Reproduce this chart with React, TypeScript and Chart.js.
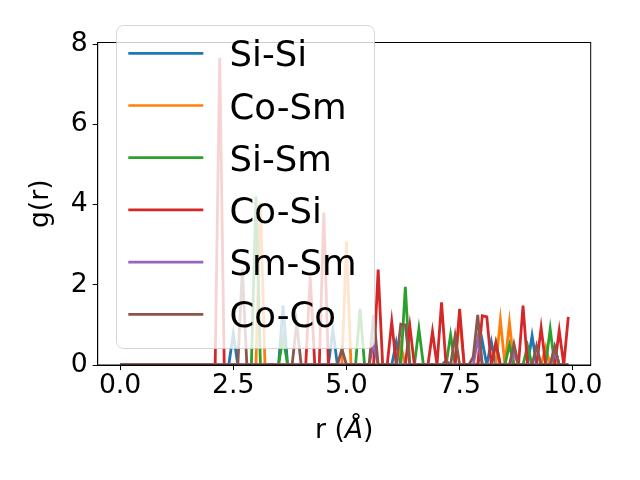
import React, { useEffect, useRef } from "react";
import { Chart, registerables } from "chart.js";

Chart.register(...registerables);

// r grid (Å)
const rValues = [
  0.0, 0.1, 0.2, 0.3, 0.4, 0.5, 0.6, 0.7, 0.8, 0.9,
  1.0, 1.1, 1.2, 1.3, 1.4, 1.5, 1.6, 1.7, 1.8, 1.9,
  2.0, 2.1, 2.2, 2.3, 2.4, 2.5, 2.6, 2.7, 2.8, 2.9,
  3.0, 3.1, 3.2, 3.3, 3.4, 3.5, 3.6, 3.7, 3.8, 3.9,
  4.0, 4.1, 4.2, 4.3, 4.4, 4.5, 4.6, 4.7, 4.8, 4.9,
  5.0, 5.1, 5.2, 5.3, 5.4, 5.5, 5.6, 5.7, 5.8, 5.9,
  6.0, 6.1, 6.2, 6.3, 6.4, 6.5, 6.6, 6.7, 6.8, 6.9,
  7.0, 7.1, 7.2, 7.3, 7.4, 7.5, 7.6, 7.7, 7.8, 7.9,
  8.0, 8.1, 8.2, 8.3, 8.4, 8.5, 8.6, 8.7, 8.8, 8.9,
  9.0, 9.1, 9.2, 9.3, 9.4, 9.5, 9.6, 9.7, 9.8, 9.9,
];

const siSi = [
  0, 0, 0, 0, 0, 0, 0, 0, 0, 0,
  0, 0, 0, 0, 0, 0, 0, 0, 0, 0,
  0, 0, 0, 0, 0, 0.78, 0, 0, 0, 0,
  0, 0, 0, 0, 0, 0, 1.48, 0, 0, 0,
  0, 0, 0, 0, 0, 0, 0, 0.88, 0, 0,
  0, 0, 0, 0, 0, 0, 0, 0, 0, 0,
  0, 0.57, 0, 0, 0, 0, 0, 0, 0, 0,
  0, 0, 0.1, 0, 0, 0, 0, 0, 0, 0,
  0.6, 0, 0.58, 0, 0, 0, 0, 0, 0, 0,
  0, 0.73, 0, 0, 0, 0, 0.45, 0, 0, 0,
];

const coSm = [
  0, 0, 0, 0, 0, 0, 0, 0, 0, 0,
  0, 0, 0, 0, 0, 0, 0, 0, 0, 0,
  0, 0, 0, 0, 0, 0, 0, 0, 0, 0,
  0, 4.05, 0, 0, 0, 0, 0, 0, 0, 0,
  0, 0, 0, 0, 0, 0, 0, 0, 0, 0,
  3.07, 0, 0, 0, 0, 0, 0, 0, 0, 0,
  0, 0, 0.5, 0, 0, 0, 0, 0, 0, 0,
  0, 0, 0, 0, 0, 1.2, 0, 0, 0, 0,
  0, 0, 0, 0, 1.12, 0, 1.06, 0, 0, 0,
  0, 0, 0, 0, 0.45, 0, 0, 0, 0, 0,
];

const siSm = [
  0, 0, 0, 0, 0, 0, 0, 0, 0, 0,
  0, 0, 0, 0, 0, 0, 0, 0, 0, 0,
  0, 0, 0, 0, 0, 0, 0, 0, 0, 0,
  4.2, 0, 0, 0, 0, 0, 0.7, 0, 0, 0,
  0, 0, 0, 0, 0, 0, 0, 0, 0, 0,
  0, 0, 0, 1.4, 0, 0, 0, 0, 0, 0,
  0, 0, 0, 1.95, 0, 0, 0.9, 0, 0, 0,
  0, 0, 0, 0.75, 0, 0, 0, 0, 0, 0,
  0, 0, 0, 0.55, 0, 0, 0.5, 0, 0, 0,
  0.48, 0, 0, 0, 0, 0.9, 0, 0, 0, 0,
];

const coSi = [
  0, 0, 0, 0, 0, 0, 0, 0, 0, 0,
  0, 0, 0, 0, 0, 0, 0, 0, 0, 0,
  0, 0, 7.66, 0, 0, 0, 0, 0, 0, 0,
  0, 0, 0, 0, 0, 0, 0, 0, 0, 0,
  0, 0, 2.2, 0, 0, 3.8, 0, 0, 0, 0,
  0, 0, 0, 0, 0, 0, 0, 2.38, 0, 0,
  1.08, 0, 0, 0, 0.97, 0, 0, 0, 0, 0.83,
  0, 1.56, 0, 0, 0, 1.4, 0, 0, 0, 0,
  1.23, 1.2, 0, 0.55, 0, 0, 0, 0, 0, 1.48,
  0, 0, 0, 0.93, 0, 0, 0, 0.86, 0, 1.2,
];

const smSm = [
  0, 0, 0, 0, 0, 0, 0, 0, 0, 0,
  0, 0, 0, 0, 0, 0, 0, 0, 0, 0,
  0, 0, 0, 0, 0, 0, 0, 0, 0, 0,
  0, 0, 0, 0, 0, 0, 0, 0, 0, 0,
  0, 0, 0, 0, 0, 0, 0, 0, 0, 0,
  0, 0, 0, 0, 0, 0, 0.55, 0, 0, 0,
  0, 0, 0, 0, 0, 0, 0, 0, 0, 0,
  0, 0, 0, 0, 0, 0, 0, 0, 0, 0.65,
  0, 0, 0, 0, 0, 0, 0, 0.3, 0, 0,
  0, 0, 0, 0, 0, 0, 0.3, 0, 0, 0,
];

const coCo = [
  0, 0, 0, 0, 0, 0, 0, 0, 0, 0,
  0, 0, 0, 0, 0, 0, 0, 0, 0, 0,
  0, 0, 0, 0, 0, 0, 0, 2.4, 0, 0,
  0, 0, 0, 0, 0, 0, 0, 0, 0, 1.05,
  0, 0, 0, 0, 0, 0, 0, 0, 0, 0.4,
  0, 0, 0, 0, 0, 0, 1.25, 0, 0, 0,
  0, 0, 1.02, 1.0, 0, 0, 0, 0, 0, 0,
  0, 0, 0, 0, 0.73, 0, 0, 0, 0.2, 1.25,
  0, 0, 0, 0, 0, 0, 0, 0.52, 0, 0,
  0, 0, 0.48, 0, 0, 0, 0.45, 0, 0, 0,
];

const seriesNames = ["Si-Si", "Co-Sm", "Si-Sm", "Co-Si", "Sm-Sm", "Co-Co"];
const seriesValues = [siSi, coSm, siSm, coSi, smSm, coCo];
const seriesColors = ["#1f77b4", "#ff7f0e", "#2ca02c", "#d62728", "#9467bd", "#8c564b"];

const xTickValues = [0, 2.5, 5, 7.5, 10];
const xTickLabels = ["0.0", "2.5", "5.0", "7.5", "10.0"];
const yTickValues = [0, 2, 4, 6, 8];
const yTickLabels = ["0", "2", "4", "6", "8"];

const FONT = "'DejaVu Sans', 'Liberation Sans', sans-serif";

const spinePlugin = {
  id: "mplSpines",
  afterDatasetsDraw(chart: any) {
    const { ctx, chartArea } = chart;
    ctx.save();
    ctx.strokeStyle = "#000";
    ctx.lineWidth = 1;
    ctx.strokeRect(chartArea.left, chartArea.top, chartArea.right - chartArea.left, chartArea.bottom - chartArea.top);
    ctx.restore();
  },
};

const legendPlugin = {
  id: "mplLegend",
  afterDraw(chart: any) {
    const ctx = chart.ctx;
    ctx.save();
    // legend frame
    const bx = 116.5, by = 25.5, bw = 258, bh = 323, r = 7;
    ctx.beginPath();
    ctx.moveTo(bx + r, by);
    ctx.lineTo(bx + bw - r, by);
    ctx.arcTo(bx + bw, by, bx + bw, by + r, r);
    ctx.lineTo(bx + bw, by + bh - r);
    ctx.arcTo(bx + bw, by + bh, bx + bw - r, by + bh, r);
    ctx.lineTo(bx + r, by + bh);
    ctx.arcTo(bx, by + bh, bx, by + bh - r, r);
    ctx.lineTo(bx, by + r);
    ctx.arcTo(bx, by, bx + r, by, r);
    ctx.closePath();
    ctx.fillStyle = "rgba(255,255,255,0.8)";
    ctx.fill();
    ctx.strokeStyle = "rgba(204,204,204,0.8)";
    ctx.lineWidth = 1;
    ctx.stroke();

    ctx.font = `35.5px ${FONT}`;
    ctx.textBaseline = "alphabetic";
    ctx.textAlign = "left";
    seriesNames.forEach((name, i) => {
      const y = 53.3 + 52.2 * i;
      ctx.beginPath();
      ctx.moveTo(128.3, y);
      ctx.lineTo(203.3, y);
      ctx.strokeStyle = seriesColors[i];
      ctx.lineWidth = 2.7;
      ctx.lineCap = "butt";
      ctx.stroke();
      ctx.fillStyle = "#000";
      ctx.fillText(name, 229.5, y + 13);
    });

    // x-axis label: r (Å) with italic Å
    const cx = (chart.chartArea.left + chart.chartArea.right) / 2;
    const ty = 431;
    const normal = `26.7px ${FONT}`;
    const italic = `italic 26.7px ${FONT}`;
    ctx.textBaseline = "middle";
    ctx.font = normal;
    const w1 = ctx.measureText("r (").width;
    const w3 = ctx.measureText(")").width;
    ctx.font = italic;
    const w2 = ctx.measureText("Å").width;
    let x = cx - (w1 + w2 + w3) / 2;
    ctx.fillStyle = "#000";
    ctx.font = normal;
    ctx.fillText("r (", x, ty);
    x += w1;
    ctx.font = italic;
    ctx.fillText("Å", x, ty);
    x += w2;
    ctx.font = normal;
    ctx.fillText(")", x, ty);
    ctx.restore();
  },
};

export default function App() {
  const canvasRef = useRef<HTMLCanvasElement | null>(null);

  useEffect(() => {
    const canvas = canvasRef.current;
    if (!canvas) return;
    Chart.defaults.font.family = FONT;
    const datasets = seriesNames.map((name, i) => ({
      label: name,
      data: rValues.map((r, k) => ({ x: r, y: seriesValues[i][k] })),
      borderColor: seriesColors[i],
      backgroundColor: seriesColors[i],
      borderWidth: 2.8,
      pointRadius: 0,
      pointHoverRadius: 0,
      tension: 0,
      fill: false,
      order: seriesNames.length - 1 - i,
    }));

    const chart = new Chart(canvas, {
      type: "line",
      data: { datasets },
      plugins: [spinePlugin, legendPlugin],
      options: {
        animation: false,
        responsive: false,
        devicePixelRatio: 1,
        layout: { padding: { left: 0, right: 49.3, top: 42.5, bottom: 0 } },
        plugins: { legend: { display: false }, tooltip: { enabled: false } },
        scales: {
          x: {
            type: "linear",
            min: -0.495,
            max: 10.395,
            afterBuildTicks: (scale: any) => {
              scale.ticks = xTickValues.map((v) => ({ value: v }));
            },
            afterFit: (scale: any) => {
              scale.height = 115;
            },
            ticks: {
              autoSkip: false,
              maxRotation: 0,
              minRotation: 0,
              padding: 0,
              color: "#000",
              font: { size: 26.7, family: FONT },
              callback: (v: any) => {
                const idx = xTickValues.indexOf(Number(v));
                return idx >= 0 ? xTickLabels[idx] : "";
              },
            },
            grid: {
              display: true,
              drawOnChartArea: false,
              drawTicks: true,
              tickLength: 5,
              tickWidth: 1,
              tickColor: "#000",
            },
            border: { display: true, color: "#000", width: 1 },
          },
          y: {
            type: "linear",
            min: 0,
            max: 8.04,
            afterBuildTicks: (scale: any) => {
              scale.ticks = yTickValues.map((v) => ({ value: v }));
            },
            afterFit: (scale: any) => {
              scale.width = 97.7;
            },
            ticks: {
              autoSkip: false,
              padding: 5,
              color: "#000",
              font: { size: 26.7, family: FONT },
              callback: (v: any) => {
                const idx = yTickValues.indexOf(Number(v));
                return idx >= 0 ? yTickLabels[idx] : "";
              },
            },
            title: {
              display: true,
              text: "g(r)",
              color: "#000",
              font: { size: 26.7, family: FONT },
              padding: { top: 25, bottom: 0 },
            },
            grid: {
              display: true,
              drawOnChartArea: false,
              drawTicks: true,
              tickLength: 5,
              tickWidth: 1,
              tickColor: "#000",
            },
            border: { display: true, color: "#000", width: 1 },
          },
        },
      },
    });

    return () => {
      chart.destroy();
    };
  }, []);

  return (
    <div style={{ position: "fixed", left: 0, top: 0, width: 640, height: 480, background: "#fff" }}>
      <canvas ref={canvasRef} width={640} height={480} style={{ width: 640, height: 480 }} />
    </div>
  );
}
